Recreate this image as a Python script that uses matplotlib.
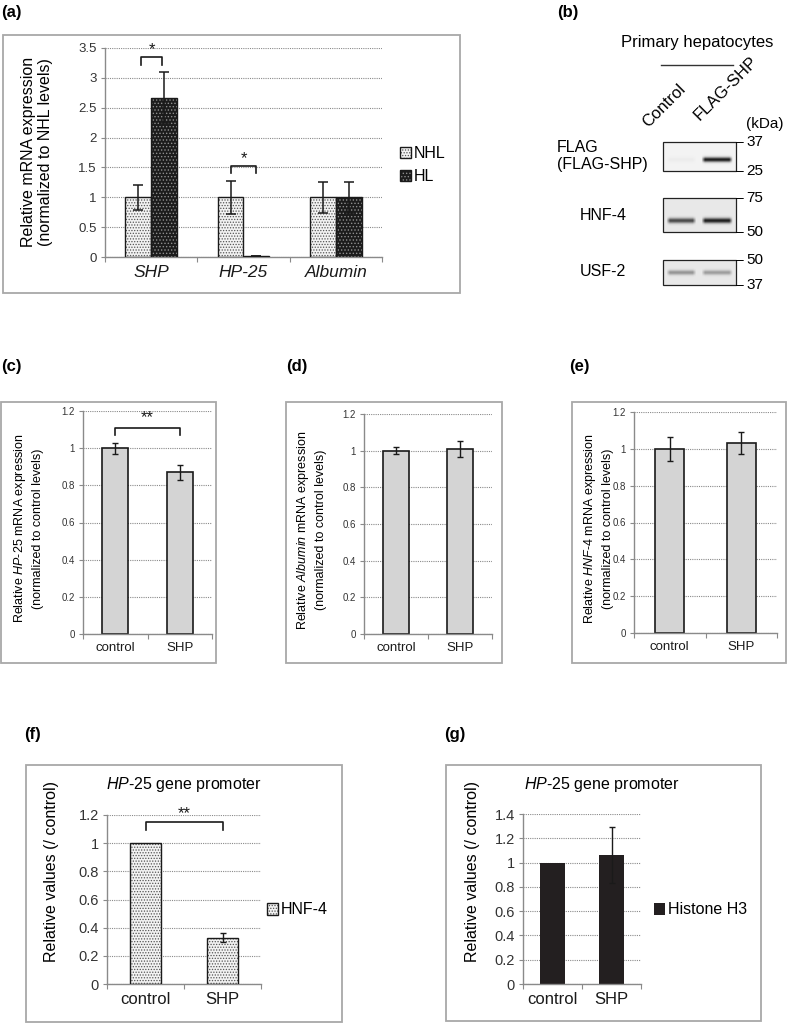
import numpy as np
import matplotlib
matplotlib.use('Agg')
import matplotlib.pyplot as plt
from matplotlib.patches import Patch, Rectangle

plt.rcParams['font.family'] = ['Liberation Sans', 'DejaVu Sans']
plt.rcParams['mathtext.fontset'] = 'custom'
plt.rcParams['mathtext.rm'] = 'Liberation Sans'
plt.rcParams['mathtext.it'] = 'Liberation Sans:italic'
plt.rcParams['hatch.linewidth'] = 0.6

# ---- data ----
# (a) liver samples
a_genes = ['SHP', 'HP-25', 'Albumin']
a_nhl = [1.0, 1.0, 1.0]
a_nhl_err = [0.21, 0.28, 0.26]
a_hl = [2.67, 0.01, 1.0]
a_hl_err = [0.42, 0.0, 0.26]

# (b) western blot
blot_names = ['FLAG\n(FLAG-SHP)', 'HNF-4', 'USF-2']
blot_lanes = ['Control', 'FLAG-SHP']
band_control = [0.03, 0.72, 0.38]
band_flag = [0.97, 0.92, 0.34]
blot_kda = [('37', '25'), ('75', '50'), ('50', '37')]

# (c)-(g) primary hepatocytes
groups = ['control', 'SHP']
c_vals = [1.0, 0.87]
c_err = [0.03, 0.04]
d_vals = [1.0, 1.01]
d_err = [0.02, 0.045]
e_vals = [1.0, 1.03]
e_err = [0.065, 0.06]
f_vals = [1.0, 0.33]
f_err = [0.0, 0.03]
g_vals = [1.0, 1.06]
g_err = [0.0, 0.23]

W, H = 787, 1023
fig = plt.figure(figsize=(W / 100, H / 100), dpi=100)

# background layer in pixel coordinates (boxes, labels, blot)
bg = fig.add_axes([0, 0, 1, 1])
bg.set_xlim(0, W)
bg.set_ylim(H, 0)
bg.axis('off')


def px_axes(l, t, r, b):
    ax = fig.add_axes([l / W, 1 - b / H, (r - l) / W, (b - t) / H])
    ax.set_facecolor('none')
    return ax


def style(ax, ymax, ystep, ncat, tick_fs, xlab_fs, labels, italic=False):
    ax.set_ylim(0, ymax)
    ax.set_xlim(-0.5, ncat - 0.5)
    yt = np.arange(0, ymax + 1e-9, ystep)
    ax.set_yticks(yt)
    ax.set_yticklabels([f'{v:g}' for v in yt])
    ax.yaxis.grid(True, linestyle=(0, (1, 1)), color='#8a8a8a', lw=0.8)
    ax.set_axisbelow(True)
    for s in ['top', 'right']:
        ax.spines[s].set_visible(False)
    for s in ['left', 'bottom']:
        ax.spines[s].set_color('#8a8a8a')
        ax.spines[s].set_linewidth(1.0)
    ax.set_xticks(np.arange(-0.5, ncat))
    ax.set_xticklabels([])
    ax.set_xticks(np.arange(ncat), minor=True)
    ax.set_xticklabels(labels, minor=True, fontsize=xlab_fs,
                       style='italic' if italic else 'normal', color='#1a1a1a')
    ax.tick_params(axis='x', which='major', length=3.5, color='#8a8a8a', direction='out')
    ax.tick_params(axis='x', which='minor', length=0, pad=6)
    ax.tick_params(axis='y', length=3, color='#8a8a8a', labelsize=tick_fs,
                   labelcolor='#333333', pad=3)


def hatched_bars(ax, x, vals, width, face, dots, hatch, edge='#1a1a1a', lw=1.0):
    ax.bar(x, vals, width, color=face, edgecolor=dots, hatch=hatch, linewidth=0, zorder=2)
    ax.bar(x, vals, width, fill=False, edgecolor=edge, linewidth=lw, zorder=3)
    return (Patch(facecolor=face, edgecolor=dots, hatch=hatch, linewidth=0),
            Patch(fill=False, edgecolor=edge, linewidth=lw))


def bracket(ax, x1, x2, y_leg, y_top, stars, fs, dy):
    ax.plot([x1, x1, x2, x2], [y_leg, y_top, y_top, y_leg], color='#1a1a1a', lw=1.2, zorder=4)
    ax.text((x1 + x2) / 2, y_top + dy, stars, ha='center', va='center', fontsize=fs, color='#1a1a1a')


box_color = '#a8a8a8'
for (l, t, r, b) in [(3, 35, 460, 293), (1, 402, 216, 663), (286, 402, 502, 663),
                     (572, 402, 786, 663), (26, 765, 342, 1022), (446, 765, 761, 1021)]:
    bg.add_patch(Rectangle((l, t), r - l, b - t, fill=False, edgecolor=box_color, lw=1.3))

for lab, (x, y) in zip(['(a)', '(b)', '(c)', '(d)', '(e)', '(f)', '(g)'],
                       [(1, 13), (557, 13), (1, 367), (286, 367), (569, 367), (24, 735), (444, 735)]):
    bg.text(x, y, lab, fontsize=12, fontweight='bold', ha='left', va='center')

# ---- (a) ----
ax = px_axes(105, 48, 382, 257)
xa = np.arange(len(a_genes))
style(ax, 3.5, 0.5, 3, 9.5, 12.5, a_genes, italic=True)
bw = 0.28
h_nhl = hatched_bars(ax, xa - bw / 2, a_nhl, bw, '#f2f2f2', '#555555', '......')
h_hl = hatched_bars(ax, xa + bw / 2, a_hl, bw, '#1c1c1c', '#8f8f8f', '.....')
ax.errorbar(xa - bw / 2, a_nhl, yerr=a_nhl_err, fmt='none', ecolor='#1a1a1a', capsize=3.5, elinewidth=1.1, capthick=1.1, zorder=5)
ax.errorbar(xa + bw / 2, a_hl, yerr=a_hl_err, fmt='none', ecolor='#1a1a1a', capsize=3.5, elinewidth=1.1, capthick=1.1, zorder=5)
bracket(ax, 0 - bw / 2 + 0.03, 0 + bw / 2 - 0.02, 3.22, 3.35, '*', 12, 0.12)
bracket(ax, 1 - bw / 2 + 0.0, 1 + bw / 2 - 0.0, 1.41, 1.52, '*', 12, 0.12)
ax.legend([h_nhl, h_hl], ['NHL', 'HL'], loc='center left', frameon=False,
          bbox_to_anchor=(400 / W, 1 - 165 / H), bbox_transform=fig.transFigure,
          fontsize=11.5, handlelength=0.7, handleheight=0.7, handletextpad=0.15,
          labelspacing=0.5, borderpad=0, borderaxespad=0)
bg.text(37, 152, 'Relative mRNA expression\n(normalized to NHL levels)', rotation=90,
        ha='center', va='center', multialignment='center', fontsize=11.5, linespacing=1.2)

# ---- (b) blot ----
bg.text(697, 43, 'Primary hepatocytes', ha='center', va='center', fontsize=12)
bg.plot([661, 733], [65, 65], color='#333333', lw=1.0)
bg.text(650, 130, blot_lanes[0], rotation=45, rotation_mode='anchor', ha='left', va='bottom', fontsize=12)
bg.text(702, 123, blot_lanes[1], rotation=45, rotation_mode='anchor', ha='left', va='bottom', fontsize=12)
bg.text(746, 124, '(kDa)', ha='left', va='center', fontsize=11)
blot_boxes = [(663, 142, 736, 171, 0.59, 2.4), (663, 198, 736, 232, 0.65, 2.6), (663, 260, 736, 285, 0.48, 2.4)]
label_pos = [(557, 156), (580, 216), (580, 272)]
for i, (l, t, r, b, yc, sig) in enumerate(blot_boxes):
    w, h = r - l, b - t
    yy, xx = np.mgrid[0:h, 0:w]
    img = np.full((h, w), 0.91 if i else 0.95)
    for lane, inten in enumerate([band_control[i], band_flag[i]]):
        x0, x1 = (0.04, 0.45) if lane == 0 else (0.52, 0.95)
        xs = np.clip(np.minimum(xx / w - x0, x1 - xx / w) / 0.05, 0, 1)
        prof = np.exp(-((yy - yc * h) / sig) ** 2) * xs
        img -= inten * prof * 0.85
    bg.imshow(img, cmap='gray', vmin=0, vmax=1, extent=(l, r, b, t), interpolation='bilinear', aspect='auto', zorder=1)
    bg.add_patch(Rectangle((l, t), w, h, fill=False, edgecolor='#222222', lw=0.9, zorder=2))
    for yv, kda in zip([t, b], blot_kda[i]):
        bg.text(736, yv, '\u2013', ha='left', va='center', fontsize=10)
        bg.text(746, yv, kda, ha='left', va='center', fontsize=11)
    lx, ly = label_pos[i]
    bg.text(lx, ly, blot_names[i], ha='left', va='center', fontsize=11.5, linespacing=1.1)
bg.set_xlim(0, W)
bg.set_ylim(H, 0)

# ---- (c)-(e) ----
xg = np.arange(len(groups))
for (l, t, r, b), vals, errs, lab_x, gene in [
        ((83, 411, 212, 634), c_vals, c_err, 28, r'$\mathit{HP}$-$\mathit{25}$'),
        ((364, 414, 492, 634), d_vals, d_err, 311, r'$\mathit{Albumin}$'),
        ((634, 412, 777, 633), e_vals, e_err, 598, r'$\mathit{HNF}$-$\mathit{4}$')]:
    ax = px_axes(l, t, r, b)
    style(ax, 1.2, 0.2, 2, 7, 9.5, groups)
    ax.bar(xg, vals, 0.4, color='#d4d4d4', edgecolor='#1a1a1a', linewidth=1.2, zorder=2)
    ax.errorbar(xg, vals, yerr=errs, fmt='none', ecolor='#1a1a1a', capsize=2.2, elinewidth=1.0, capthick=1.0, zorder=5)
    if vals is c_vals:
        bracket(ax, 0, 1, 1.07, 1.11, '**', 12, 0.055)
    bg.text(lab_x, (t + b) / 2 + 6, 'Relative ' + gene + ' mRNA expression\n(normalized to control levels)',
            rotation=90, ha='center', va='center', multialignment='center', fontsize=9, linespacing=1.35)

# ---- (f) ----
ax = px_axes(107, 815, 261, 984)
style(ax, 1.2, 0.2, 2, 10.5, 12, groups)
h_f = hatched_bars(ax, xg, f_vals, 0.4, '#f2f2f2', '#555555', '......')
ax.errorbar(xg[1:], f_vals[1:], yerr=f_err[1:], fmt='none', ecolor='#1a1a1a', capsize=2.5, elinewidth=1.0, capthick=1.0, zorder=5)
bracket(ax, 0, 1, 1.09, 1.15, '**', 12, 0.06)
ax.legend([h_f], ['HNF-4'], loc='center left', frameon=False,
          bbox_to_anchor=(267 / W, 1 - 910 / H), bbox_transform=fig.transFigure,
          fontsize=11.5, handlelength=0.7, handleheight=0.7, handletextpad=0.15, borderpad=0, borderaxespad=0)
bg.text(184, 785, r'$\mathit{HP}$-$\mathit{25}$ gene promoter', ha='center', va='center', fontsize=11.5)
bg.text(52, 872, 'Relative values (/ control)', rotation=90, ha='center', va='center', fontsize=11.5)

# ---- (g) ----
ax = px_axes(523, 814, 641, 984)
style(ax, 1.4, 0.2, 2, 10.5, 12, groups)
ax.bar(xg, g_vals, 0.42, color='#231f20', edgecolor='#231f20', linewidth=0, zorder=2)
ax.errorbar(xg[1:], g_vals[1:], yerr=g_err[1:], fmt='none', ecolor='#1a1a1a', capsize=2.5, elinewidth=1.0, capthick=1.0, zorder=5)
ax.legend([Patch(facecolor='#231f20')], ['Histone H3'], loc='center left', frameon=False,
          bbox_to_anchor=(654 / W, 1 - 910 / H), bbox_transform=fig.transFigure,
          fontsize=11.5, handlelength=0.7, handleheight=0.7, handletextpad=0.15, borderpad=0, borderaxespad=0)
bg.text(602, 785, r'$\mathit{HP}$-$\mathit{25}$ gene promoter', ha='center', va='center', fontsize=11.5)
bg.text(472, 872, 'Relative values (/ control)', rotation=90, ha='center', va='center', fontsize=11.5)

fig.savefig('out.png', dpi=100)
